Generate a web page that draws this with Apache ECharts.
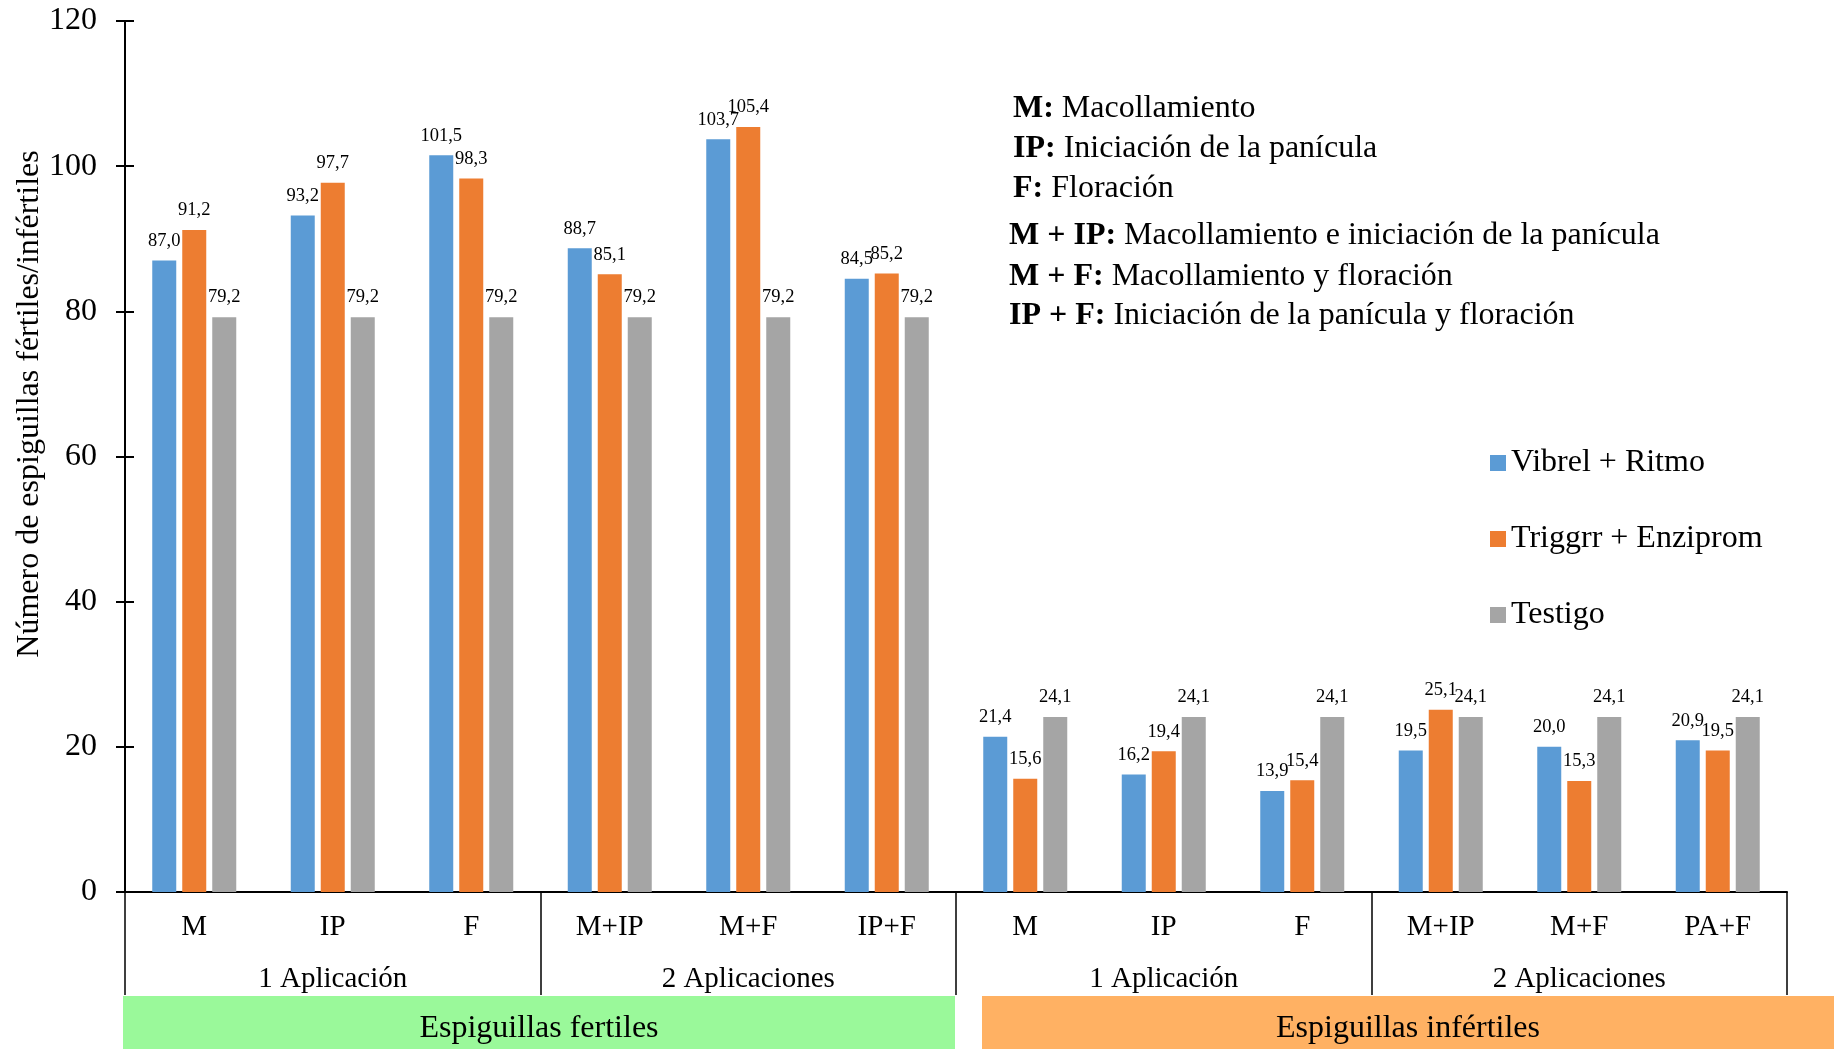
<!DOCTYPE html>
<html>
<head>
<meta charset="utf-8">
<script src="https://cdn.jsdelivr.net/npm/echarts@6/dist/echarts.min.js"></script>
<style>
  html, body { margin: 0; padding: 0; background: #ffffff; }
  #chart { width: 1834px; height: 1049px; }
</style>
</head>
<body>
<div id="chart"></div>
<script>
// Treatment stages, one per category slot
const stages = ['M', 'IP', 'F', 'M+IP', 'M+F', 'IP+F', 'M', 'IP', 'F', 'M+IP', 'M+F', 'PA+F'];
// Second level of the category axis
const applications = ['1 Aplicación', '2 Aplicaciones', '1 Aplicación', '2 Aplicaciones'];
// Third level: spikelet type
const spikeletGroups = ['Espiguillas fertiles', 'Espiguillas infértiles'];
const seriesNames = ['Vibrel + Ritmo', 'Triggrr + Enziprom', 'Testigo'];

const vibrelRitmo     = [87.0, 93.2, 101.5, 88.7, 103.7, 84.5, 21.4, 16.2, 13.9, 19.5, 20.0, 20.9];
const triggrrEnziprom = [91.2, 97.7, 98.3, 85.1, 105.4, 85.2, 15.6, 19.4, 15.4, 25.1, 15.3, 19.5];
const testigo         = [79.2, 79.2, 79.2, 79.2, 79.2, 79.2, 24.1, 24.1, 24.1, 24.1, 24.1, 24.1];

const yTicks = [0, 20, 40, 60, 80, 100, 120];

const notes = [
  ['M:', 'Macollamiento'],
  ['IP:', 'Iniciación de la panícula'],
  ['F:', 'Floración'],
  ['M + IP:', 'Macollamiento e iniciación de la panícula'],
  ['M + F:', 'Macollamiento y floración'],
  ['IP + F:', 'Iniciación de la panícula y floración']
];

const FONT = '"Liberation Serif", "Times New Roman", serif';
const colors = ['#5B9BD5', '#ED7D31', '#A5A5A5'];
const seriesData = [vibrelRitmo, triggrrEnziprom, testigo];

const chart = echarts.init(document.getElementById('chart'), null, { renderer: 'canvas' });

const fmt = v => v.toFixed(1).replace('.', ',');

const yBase = {
  type: 'value',
  min: yTicks[0],
  max: yTicks[yTicks.length - 1],
  interval: yTicks[1] - yTicks[0],
  position: 'left',
  splitLine: { show: false }
};

// Bands under the axis with the spikelet type
const bandTop = 996;
const bandH = 53;
const bands = [
  { x0: 123, x1: 955, fill: '#9AF99A', label: spikeletGroups[0] },
  { x0: 982, x1: 1834, fill: '#FFB163', label: spikeletGroups[1] }
];

const graphics = [];
bands.forEach(b => {
  graphics.push({
    type: 'rect', z: 0,
    shape: { x: b.x0, y: bandTop, width: b.x1 - b.x0, height: bandH },
    style: { fill: b.fill }
  });
  graphics.push({
    type: 'text', z: 1,
    x: (b.x0 + b.x1) / 2, y: bandTop + bandH / 2 + 6,
    style: { text: b.label, font: '32px ' + FONT, fill: '#000', align: 'center', verticalAlign: 'middle' }
  });
});

// Abbreviation notes
const noteY = [109, 149, 189, 236, 277, 316];
const noteX = [1013, 1013, 1013, 1009, 1009, 1009];
notes.forEach((n, i) => {
  graphics.push({
    type: 'text',
    x: noteX[i], y: noteY[i],
    style: {
      text: '{b|' + n[0] + '} ' + n[1],
      font: '32px ' + FONT,
      fill: '#000',
      verticalAlign: 'middle',
      rich: { b: { font: 'bold 32px ' + FONT, fill: '#000' } }
    }
  });
});

// Y axis title
graphics.push({
  type: 'text',
  x: 30, y: 404,
  rotation: Math.PI / 2,
  style: {
    text: 'Número de espiguillas fértiles/infértiles',
    font: '32px ' + FONT, fill: '#000', align: 'center', verticalAlign: 'middle'
  }
});

const option = {
  animation: false,
  backgroundColor: '#ffffff',
  textStyle: { fontFamily: FONT },
  grid: { left: 125, right: 47, top: 21, bottom: 157, containLabel: false },
  legend: {
    orient: 'vertical',
    left: 1485, top: 442,
    icon: 'rect',
    itemWidth: 16, itemHeight: 16,
    itemGap: 44,
    data: seriesNames,
    textStyle: { fontFamily: FONT, fontSize: 32, color: '#000', padding: [0, 0, 0, 0] }
  },
  xAxis: [
    {
      type: 'category',
      data: stages,
      position: 'bottom',
      axisLine: { show: true, lineStyle: { color: '#000', width: 2 } },
      axisTick: { show: false },
      axisLabel: { interval: 0, margin: 21, fontFamily: FONT, fontSize: 29, color: '#000' }
    },
    {
      type: 'category',
      data: applications,
      position: 'bottom',
      axisLine: { show: false },
      axisTick: { show: true, interval: 0, length: 103, lineStyle: { color: '#000', width: 1.5 } },
      axisLabel: { interval: 0, margin: 73, fontFamily: FONT, fontSize: 29, color: '#000' }
    }
  ],
  yAxis: [
    Object.assign({}, yBase, {
      axisLine: { show: true, lineStyle: { color: '#000', width: 2 } },
      axisTick: { show: true, length: 9, lineStyle: { color: '#000', width: 2 } },
      axisLabel: { margin: 28, fontFamily: FONT, fontSize: 32, color: '#000' }
    }),
    Object.assign({}, yBase, {
      axisLine: { show: false },
      axisTick: { show: true, inside: true, length: 9, lineStyle: { color: '#000', width: 2 } },
      axisLabel: { show: false }
    })
  ],
  series: seriesNames.map((name, i) => ({
    name,
    type: 'bar',
    xAxisIndex: 0,
    yAxisIndex: 0,
    data: seriesData[i],
    barWidth: 24,
    barGap: '25%',
    itemStyle: { color: colors[i] },
    label: {
      show: true,
      position: 'top',
      distance: 10,
      fontFamily: FONT,
      fontSize: 18.5,
      color: '#000',
      formatter: p => fmt(p.value)
    }
  })),
  graphic: graphics
};

chart.setOption(option);
</script>
</body>
</html>
